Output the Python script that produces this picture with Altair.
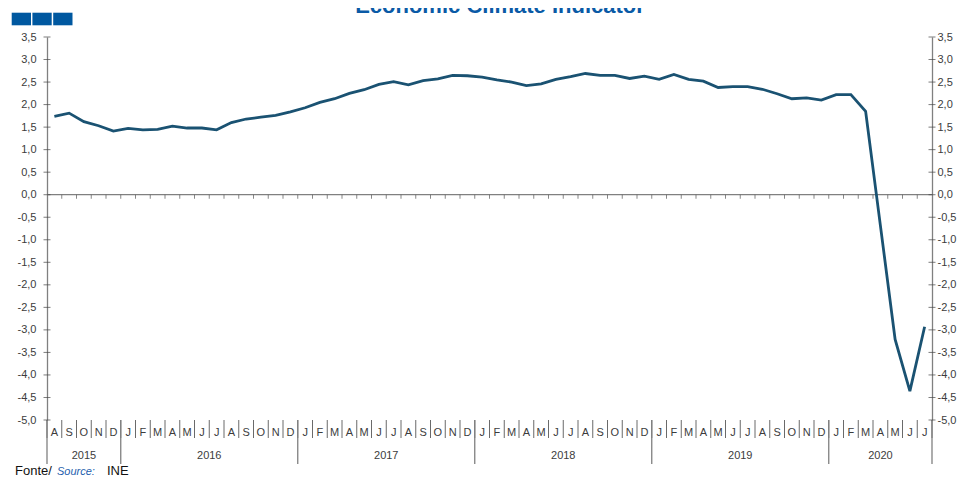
import altair as alt
import pandas as pd

# ---- data -------------------------------------------------------------
month_initials = ["J", "F", "M", "A", "M", "J", "J", "A", "S", "O", "N", "D"]
start_month = 7          # August 2015 (0-based index into month_initials)
n_months = 60            # Aug 2015 .. Jul 2020
eci_values = [
    1.74, 1.81, 1.62, 1.53, 1.41,                                      # 2015 A-D
    1.47, 1.44, 1.45, 1.52, 1.48, 1.48, 1.44, 1.60, 1.68, 1.72, 1.76, 1.84,  # 2016
    1.93, 2.05, 2.13, 2.25, 2.33, 2.45, 2.51, 2.44, 2.53, 2.57, 2.65, 2.64,  # 2017
    2.61, 2.55, 2.50, 2.42, 2.46, 2.56, 2.62, 2.69, 2.65, 2.65, 2.58, 2.63,  # 2018
    2.56, 2.67, 2.56, 2.52, 2.38, 2.40, 2.40, 2.34, 2.24, 2.13, 2.15, 2.10,  # 2019
    2.22, 2.22, 1.85, -0.68, -3.21, -4.36, -2.93,                      # 2020 J-J
]
year_labels = ["2015", "2016", "2017", "2018", "2019", "2020"]
year_bounds = [-0.5, 4.5, 16.5, 28.5, 40.5, 52.5, 59.5]
y_ticks = [3.5, 3.0, 2.5, 2.0, 1.5, 1.0, 0.5, 0.0, -0.5, -1.0, -1.5, -2.0,
           -2.5, -3.0, -3.5, -4.0, -4.5, -5.0]
title_text = "Economic Climate Indicator"

# ---- tables -----------------------------------------------------------
idx = list(range(n_months))
df = pd.DataFrame({
    "idx": idx,
    "val": eci_values,
    "m": [month_initials[(start_month + i) % 12] for i in idx],
})
bounds = [i - 0.5 for i in range(n_months + 1)]
inner_bounds = pd.DataFrame({"b": bounds[1:-1], "z": [0.0] * (n_months - 1)})
all_bounds = pd.DataFrame({"b": bounds})
ybounds_df = pd.DataFrame({"b": year_bounds})
years_df = pd.DataFrame({
    "year": year_labels,
    "c": [(year_bounds[k] + year_bounds[k + 1]) / 2 for k in range(len(year_labels))],
})
ytick_df = pd.DataFrame({
    "v": y_ticks * 2,
    "xp": [bounds[0]] * len(y_ticks) + [bounds[-1]] * len(y_ticks),
})

W, H = 885, 383
FONT = "Liberation Sans"
LINE_C = "#1a5272"
AXIS_C = "#808080"
SEP_C = "#6a6a6a"
TXT_C = "#3c3c3c"

xs = alt.Scale(domain=[bounds[0], bounds[-1]], nice=False, zero=False)
ys = alt.Scale(domain=[-5.0, 3.5], nice=False, zero=False)

lab_expr = "replace(replace(format(datum.value, '.1f'), '.', ','), '\u2212', '-')"

left_axis = alt.Axis(
    orient="left", values=y_ticks, ticks=False, tickSize=0, grid=False,
    domain=True, domainColor=AXIS_C, domainWidth=1.3,
    labelExpr=lab_expr, labelPadding=11, labelFont=FONT, labelFontSize=11,
    labelColor=TXT_C, title=None,
)
right_axis = alt.Axis(
    orient="right", values=y_ticks, ticks=False, tickSize=0, grid=False,
    domain=True, domainColor=AXIS_C, domainWidth=1.3,
    labelExpr=lab_expr, labelPadding=5, labelFont=FONT, labelFontSize=11,
    labelColor=TXT_C, title=None,
)

zero_rule = alt.Chart(pd.DataFrame({"v": [0.0]})).mark_rule(
    color=AXIS_C, strokeWidth=1.3
).encode(y=alt.Y("v:Q", scale=ys, axis=None))

zero_ticks = alt.Chart(inner_bounds).mark_tick(
    orient="vertical", size=4, thickness=1, yOffset=2, color="#555555"
).encode(
    x=alt.X("b:Q", scale=xs, axis=None),
    y=alt.Y("z:Q", scale=ys, axis=None),
)

month_seps = alt.Chart(all_bounds).mark_rule(color=SEP_C, strokeWidth=1).encode(
    x=alt.X("b:Q", scale=xs, axis=None),
    y=alt.value(H), y2=alt.value(H + 18),
)
year_seps = alt.Chart(ybounds_df).mark_rule(color=AXIS_C, strokeWidth=1.3).encode(
    x=alt.X("b:Q", scale=xs, axis=None),
    y=alt.value(H), y2=alt.value(H + 44),
)

line = alt.Chart(df).mark_line(color=LINE_C, strokeWidth=2.8).encode(
    x=alt.X("idx:Q", scale=xs, axis=None),
    y=alt.Y("val:Q", scale=ys, axis=left_axis),
)

ytick_marks = alt.Chart(ytick_df).mark_tick(
    orient="horizontal", size=7, thickness=1, color="#444444"
).encode(
    x=alt.X("xp:Q", scale=xs, axis=None),
    y=alt.Y("v:Q", scale=ys, axis=right_axis),
)

month_text = alt.Chart(df).mark_text(
    font=FONT, fontSize=11, color=TXT_C, baseline="middle", align="center"
).encode(
    x=alt.X("idx:Q", scale=xs, axis=None),
    y=alt.value(H + 13),
    text="m:N",
)

year_text = alt.Chart(years_df).mark_text(
    font=FONT, fontSize=11, color=TXT_C, baseline="middle", align="center"
).encode(
    x=alt.X("c:Q", scale=xs, axis=None),
    y=alt.value(H + 36),
    text="year:N",
)

# title sits mostly above the visible frame; only the lower part of its glyphs shows
title = alt.Chart(pd.DataFrame({"t": [title_text]})).mark_text(
    font=FONT, fontSize=22, fontWeight="bold", color="#0a5aa6",
    baseline="alphabetic", align="center"
).encode(x=alt.value(453), y=alt.value(-24.5), text="t:N")

SQ_C = "#0058a0"
squares = [
    alt.Chart(pd.DataFrame({"k": [k]})).mark_rect(color=SQ_C).encode(
        x=alt.value(x0), x2=alt.value(x0 + 19.3),
        y=alt.value(-24.3), y2=alt.value(-11.7),
    )
    for k, x0 in enumerate([-35.3, -14.6, 6.2])
]

src = pd.DataFrame({"t": ["Fonte/", "Source:", "INE"]})
fonte = alt.Chart(src.iloc[[0]]).mark_text(
    font=FONT, fontSize=13, color="#111111", align="left", baseline="alphabetic"
).encode(x=alt.value(-32), y=alt.value(438), text="t:N")
source = alt.Chart(src.iloc[[1]]).mark_text(
    font=FONT, fontSize=11, fontStyle="italic", color="#1f5fae", align="left",
    baseline="alphabetic"
).encode(x=alt.value(10), y=alt.value(438), text="t:N")
ine = alt.Chart(src.iloc[[2]]).mark_text(
    font=FONT, fontSize=13, color="#111111", align="left", baseline="alphabetic"
).encode(x=alt.value(60), y=alt.value(438), text="t:N")

chart = alt.layer(
    zero_rule, zero_ticks, month_seps, year_seps, line, ytick_marks,
    month_text, year_text, title, *squares, fonte, source, ine,
).resolve_axis(y="independent").properties(
    width=W, height=H,
    autosize=alt.AutoSizeParams(type="none"),
    padding={"left": 39, "top": 29, "right": 26, "bottom": 58},
).configure_view(stroke=None)

chart.save("out.html", embed_options={"renderer": "svg", "actions": False})
